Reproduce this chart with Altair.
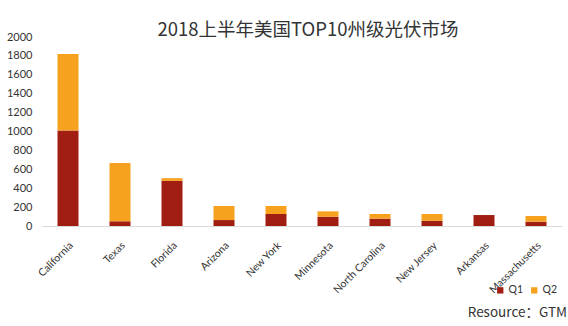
import altair as alt
import pandas as pd

states = ["California", "Texas", "Florida", "Arizona", "New York", "Minnesota",
          "North Carolina", "New Jersey", "Arkansas", "Massachusetts"]
q1 = [1010, 50, 478, 63, 127, 98, 78, 56, 116, 46]
q2 = [810, 617, 28, 149, 85, 57, 49, 71, 0, 60]
y_ticks = [0, 200, 400, 600, 800, 1000, 1200, 1400, 1600, 1800, 2000]

rows = []
for s, a, b in zip(states, q1, q2):
    rows.append({"state": s, "quarter": "Q1", "value": a, "ord": 0})
    rows.append({"state": s, "quarter": "Q2", "value": b, "ord": 1})
df = pd.DataFrame(rows)

label_font = "Lato"

bars = alt.Chart(df).mark_bar(size=21).encode(
    x=alt.X("state:N", sort=states, title=None,
            scale=alt.Scale(paddingInner=0.6, paddingOuter=0.3),
            axis=alt.Axis(labelAngle=-45, labelFontSize=10.5, labelColor="#333333",
                          labelFont=label_font, ticks=False, domainColor="#d9d9d9",
                          labelPadding=14)),
    y=alt.Y("value:Q", stack="zero", title=None,
            scale=alt.Scale(domain=[0, 2000]),
            axis=alt.Axis(values=y_ticks, format="d", grid=False, domain=False, ticks=False,
                          labelFontSize=11, labelColor="#333333", labelFont=label_font,
                          labelPadding=10)),
    color=alt.Color("quarter:N",
                    scale=alt.Scale(domain=["Q1", "Q2"], range=["#A01E12", "#F6A21E"]),
                    legend=alt.Legend(title=None, orient="none", direction="horizontal",
                                      legendX=453, legendY=248, symbolType="square",
                                      symbolSize=40, labelFontSize=10.5, labelFont=label_font,
                                      labelColor="#333333", columnPadding=6,
                                      labelOffset=3)),
    order=alt.Order("ord:Q", sort="ascending"),
)

source = alt.Chart(pd.DataFrame({"t": ["Resource：GTM"]})).mark_text(
    align="right", baseline="middle", fontSize=13.5, font="Noto Sans CJK SC", color="#333333"
).encode(text="t:N", x=alt.value(525), y=alt.value(276))

chart = alt.layer(bars, source).properties(
    width=520, height=189,
    autosize=alt.AutoSizeParams(type="none"),
    padding={"left": 42, "top": 37, "right": 6, "bottom": 100},
    title=alt.TitleParams("2018上半年美国TOP10州级光伏市场", font="Noto Sans CJK SC",
                          fontSize=18.5, fontWeight="normal", color="#333333",
                          anchor="middle", offset=-8, dx=6),
    background="white",
).configure_view(stroke=None)

chart.save("out.html", embed_options={"renderer": "svg", "actions": False})
